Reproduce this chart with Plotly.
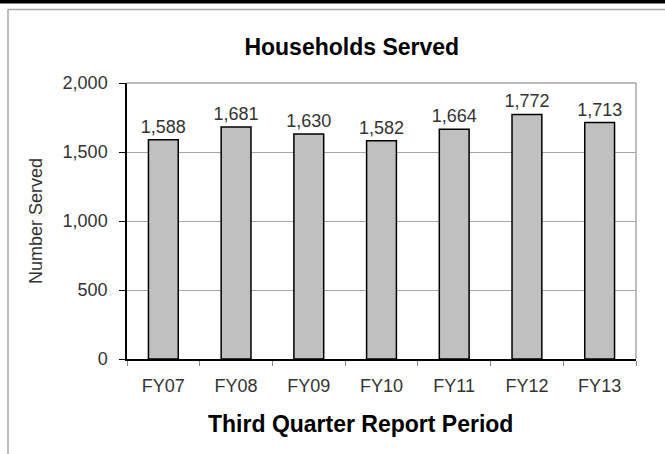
import plotly.graph_objects as go

years = ["FY07", "FY08", "FY09", "FY10", "FY11", "FY12", "FY13"]
served = [1588, 1681, 1630, 1582, 1664, 1772, 1713]

font_family = "Liberation Sans, Arial, sans-serif"
grid_gray = "#a6a6a6"

fig = go.Figure()
fig.add_trace(go.Bar(
    x=years, y=served,
    marker=dict(color="#c0c0c0", line=dict(color="black", width=1.5)),
    text=[f"{v:,}" for v in served],
    textposition="outside",
    constraintext="none",
    textfont=dict(size=18, color="#333333", family=font_family),
    cliponaxis=False,
))

fig.update_layout(
    width=665, height=454,
    margin=dict(l=127, r=29, t=83, b=95),
    paper_bgcolor="white", plot_bgcolor="white",
    font=dict(family=font_family, size=18, color="#333333"),
    bargap=0.59,
    showlegend=False,
    title=dict(text="<b>Households Served</b>", x=0.529, xanchor="center",
               y=1 - 47 / 454, yanchor="middle", xref="container", yref="container",
               font=dict(size=23, color="black")),
    xaxis=dict(
        showline=True, linecolor="black", linewidth=1.5,
        ticks="outside", tickson="boundaries", ticklen=5, tickcolor="#888888",
        tickfont=dict(size=18, color="#333333"), ticklabelstandoff=10,
        showgrid=False,
    ),
    yaxis=dict(
        range=[0, 2000], dtick=500, tickformat=",",
        showline=True, linecolor="black", linewidth=1.5,
        ticks="outside", ticklen=6, tickcolor="black",
        tickfont=dict(size=18, color="#333333"), ticklabelstandoff=8,
        showgrid=True, gridcolor=grid_gray, gridwidth=1,
        title=dict(text="Number Served", font=dict(size=18, color="#333333"), standoff=15),
        zeroline=False,
    ),
    annotations=[dict(
        text="<b>Third Quarter Report Period</b>", xref="paper", yref="paper",
        x=(360 - 127) / 509, y=(359 - 424) / 276, xanchor="center", yanchor="middle",
        showarrow=False, font=dict(size=23, color="black"),
    )],
    shapes=[
        # plot area border (top and right)
        dict(type="line", xref="paper", yref="paper", x0=0, x1=1, y0=1, y1=1,
             line=dict(color=grid_gray, width=1.5)),
        dict(type="line", xref="paper", yref="paper", x0=1, x1=1, y0=0, y1=1,
             line=dict(color=grid_gray, width=1.5)),
        # outer chart frame
        dict(type="line", xref="paper", yref="paper", x0=(8 - 127) / 509, x1=1.2,
             y0=(359 - 9.5) / 276, y1=(359 - 9.5) / 276,
             line=dict(color=grid_gray, width=1.5)),
        dict(type="line", xref="paper", yref="paper", x0=(8 - 127) / 509, x1=(8 - 127) / 509,
             y0=(359 - 9.5) / 276, y1=-0.5,
             line=dict(color=grid_gray, width=1.5)),
        # black band at the very top
        dict(type="line", xref="paper", yref="paper", x0=-0.3, x1=1.2,
             y0=(359 - 1.75) / 276, y1=(359 - 1.75) / 276,
             line=dict(color="black", width=3.5)),
    ],
)

# drop the default 8px page margin so the figure sits at the window corner
fig.write_html("out.html", config={"displayModeBar": False},
               post_script="document.body.style.margin='0';")
